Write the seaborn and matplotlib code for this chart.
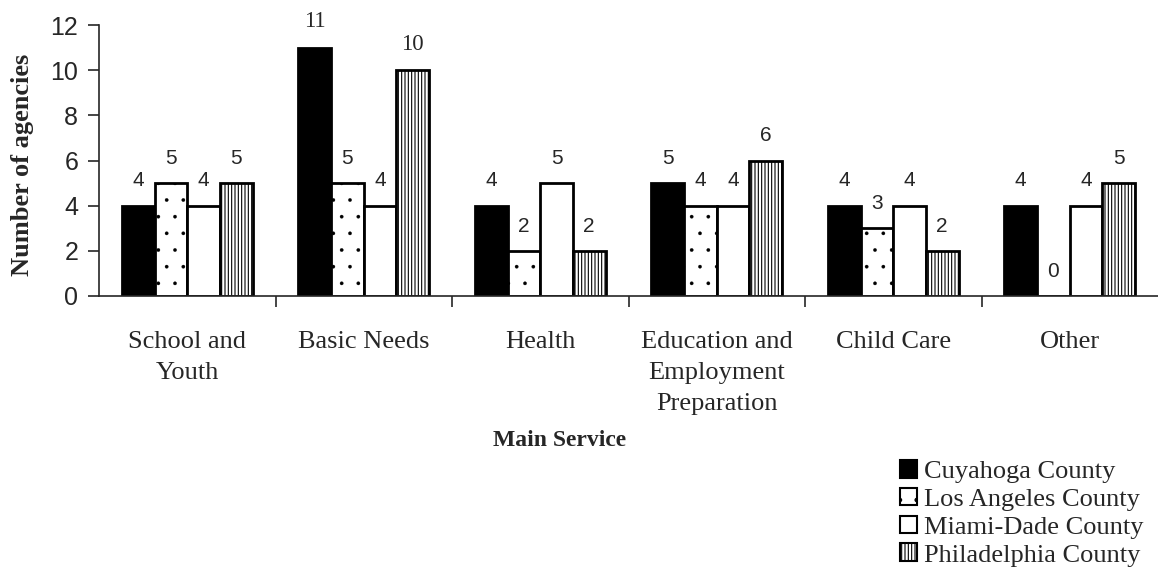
import matplotlib
matplotlib.use("Agg")
import matplotlib.pyplot as plt
import seaborn as sns
import pandas as pd
import numpy as np
from matplotlib.patches import Patch

categories = ["School and\nYouth", "Basic Needs", "Health",
              "Education and\nEmployment\nPreparation", "Child Care", "Other"]
counties = ["Cuyahoga County", "Los Angeles County", "Miami-Dade County", "Philadelphia County"]
cuyahoga = [4, 11, 4, 5, 4, 4]
los_angeles = [5, 5, 2, 4, 3, 0]
miami_dade = [4, 4, 5, 4, 4, 4]
philadelphia = [5, 10, 2, 6, 2, 5]
yticks = [0, 2, 4, 6, 8, 10, 12]

rows = []
for county, vals in zip(counties, [cuyahoga, los_angeles, miami_dade, philadelphia]):
    for c, v in zip(categories, vals):
        rows.append({"Main Service": c, "County": county, "Agencies": v})
df = pd.DataFrame(rows)

sns.set_style("ticks")
serif = ["Liberation Serif", "DejaVu Serif"]
sans = ["Liberation Sans", "DejaVu Sans"]
plt.rcParams["hatch.linewidth"] = 0.8

fig = plt.figure(figsize=(11.58, 5.86), dpi=100)
ax = fig.add_axes([0.0855, 0.495, 0.9145, 0.462])

fills = ["black", "white", "white", "white"]
hatches = [None, ".", None, "|||||"]
sns.barplot(data=df, x="Main Service", y="Agencies", hue="County",
            hue_order=counties, order=categories, ax=ax, width=0.74,
            palette=fills, edgecolor="black", linewidth=2, legend=False,
            saturation=1)


def style_dots(p):
    try:
        p.set_hatch_linewidth(0.2)
    except AttributeError:
        pass


for i, cont in enumerate(ax.containers):
    for p in cont.patches:
        p.set_facecolor(fills[i])
        p.set_edgecolor("black")
        if hatches[i]:
            p.set_hatch(hatches[i])
        if i == 1:
            style_dots(p)
    for p, v in zip(cont.patches, cont.datavalues):
        big = v >= 10
        ax.annotate(f"{int(v)}", (p.get_x() + p.get_width() / 2, v),
                    xytext=(0, 11), textcoords="offset points",
                    ha="center", va="bottom",
                    fontsize=16.5 if big else 15,
                    family=serif if big else sans)

ax.set_ylim(0, 12)
ax.set_xlim(-0.5, len(categories) - 0.5)
ax.set_yticks(yticks)
ax.set_yticklabels([str(t) for t in yticks], fontsize=18, family=sans)
ax.tick_params(axis="y", length=8, width=1.2, pad=7)
ax.set_xticks(range(len(categories)))
ax.set_xticklabels(categories, fontsize=19, family=serif, linespacing=1.55)
ax.tick_params(axis="x", which="major", length=0, pad=25)
ax.set_xticks(np.arange(0.5, len(categories) - 0.5, 1.0), minor=True)
ax.tick_params(axis="x", which="minor", length=8, width=1.2)
ax.xaxis.set_tick_params(which="minor", labelbottom=False)

for s in ["top", "right"]:
    ax.spines[s].set_visible(False)
ax.spines["left"].set_linewidth(1.2)
ax.spines["bottom"].set_linewidth(1.2)

ax.set_ylabel("")
ax.set_xlabel("")
fig.text(23 / 1158, 1 - 165 / 586, "Number of agencies", rotation=90, fontsize=19,
         fontweight="bold", family=serif, ha="center", va="center")
fig.text(560 / 1158, 1 - 440 / 586, "Main Service", fontsize=17, fontweight="bold",
         family=serif, ha="center", va="center")

handles = [Patch(facecolor=f, edgecolor="black", hatch=h, linewidth=1.5)
           for f, h in zip(fills, hatches)]
leg = fig.legend(handles, counties, loc="upper left",
                 bbox_to_anchor=(900 / 1158, 1 - 460 / 586),
                 frameon=False, prop={"family": serif, "size": 19},
                 handlelength=0.65, handleheight=0.65, handletextpad=0.25,
                 labelspacing=0.18, borderaxespad=0, borderpad=0)

fig.savefig("out.png", dpi=100)
